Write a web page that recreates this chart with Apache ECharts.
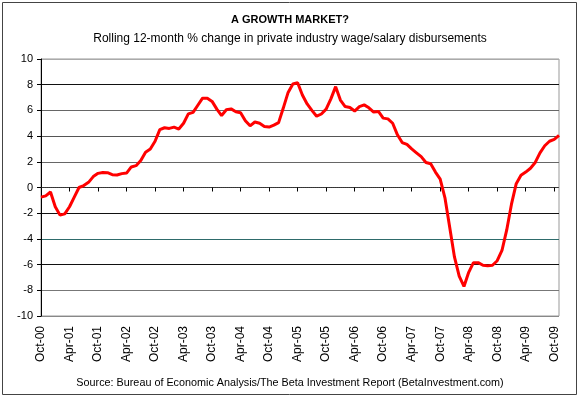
<!DOCTYPE html>
<html>
<head>
<meta charset="utf-8">
<script src="https://cdn.jsdelivr.net/npm/echarts@6/dist/echarts.min.js"></script>
<style>
  html, body { margin: 0; padding: 0; background: #fff; }
  #chart { width: 580px; height: 398px; }
</style>
</head>
<body>
<div id="chart"></div>
<script>
// month labels, Oct-00 .. Nov-09
const monthNames = ['Jan', 'Feb', 'Mar', 'Apr', 'May', 'Jun', 'Jul', 'Aug', 'Sep', 'Oct', 'Nov', 'Dec']
const startYear = 2000
const startMonth = 9 // Oct
const monthCount = 110

// rolling 12-month % change
const wageGrowth = [
  -0.75, -0.65, -0.35, -1.5, -2.15, -2.05, -1.5, -0.75, 0.0, 0.15,
  0.4, 0.85, 1.1, 1.17, 1.15, 1.0, 0.97, 1.08, 1.12, 1.6,
  1.7, 2.1, 2.75, 3.0, 3.6, 4.5, 4.65, 4.6, 4.7, 4.55,
  5.0, 5.73, 5.85, 6.4, 6.95, 6.95, 6.7, 6.1, 5.6, 6.05,
  6.12, 5.9, 5.82, 5.2, 4.8, 5.1, 5.0, 4.75, 4.7, 4.85,
  5.05, 6.2, 7.4, 8.05, 8.15, 7.2, 6.5, 6.0, 5.55, 5.72,
  6.1, 6.9, 7.85, 6.8, 6.3, 6.22, 5.95, 6.3, 6.43, 6.2,
  5.87, 5.92, 5.4, 5.34, 5.0, 4.1, 3.5, 3.35, 3.0, 2.7,
  2.4, 1.95, 1.85, 1.2, 0.65, -0.8, -3.1, -5.4, -6.9, -7.7,
  -6.6, -5.85, -5.85, -6.05, -6.1, -6.05, -5.7, -4.9, -3.3, -1.3,
  0.3, 0.95, 1.2, 1.5, 1.95, 2.7, 3.25, 3.6, 3.75, 4.05
]

// gridline colours from -10 up to 10 (the original's lines come out in different greys)
const gridColors = ['#888', '#777', '#111', '#2e6b6b', '#111', '#555', '#666', '#555', '#666', '#111', '#aaa']

const categories = []
for (let i = 0; i < monthCount; i++) {
  const m = (startMonth + i) % 12
  const y = startYear + Math.floor((startMonth + i) / 12)
  categories.push(monthNames[m] + '-' + String(y % 100).padStart(2, '0'))
}

const font = 'Liberation Sans, Arial, sans-serif'
const chart = echarts.init(document.getElementById('chart'))

const option = {
  animation: false,
  backgroundColor: '#fff',
  title: [{
    text: 'A GROWTH MARKET?',
    left: 'center',
    top: 9,
    textStyle: { fontFamily: font, fontSize: 11, fontWeight: 'bold', color: '#000' }
  }, {
    text: 'Rolling 12-month % change in private industry wage/salary disbursements',
    left: 'center',
    top: 28,
    textStyle: { fontFamily: font, fontSize: 12, fontWeight: 'normal', color: '#000' }
  }, {
    text: 'Source: Bureau of Economic Analysis/The Beta Investment Report (BetaInvestment.com)',
    left: 'center',
    top: 373,
    textStyle: { fontFamily: font, fontSize: 10.8, fontWeight: 'normal', color: '#000' }
  }],
  graphic: [{
    type: 'rect',
    shape: { x: 2.5, y: 2.5, width: 574, height: 392 },
    style: { fill: 'none', stroke: '#444', lineWidth: 1 },
    silent: true
  }],
  grid: {
    left: 41,
    right: 21,
    top: 59,
    bottom: 82,
    show: true,
    borderColor: '#999',
    borderWidth: 1
  },
  xAxis: [{
    // axis line with ticks, sitting on zero
    type: 'category',
    data: categories,
    boundaryGap: false,
    axisLine: { onZero: true, lineStyle: { color: '#333', width: 1, type: 'dotted' } },
    axisTick: { show: true, interval: 5, length: 4, lineStyle: { color: '#000' } },
    axisLabel: { show: false },
    splitLine: { show: false }
  }, {
    // labels at the bottom
    type: 'category',
    data: categories,
    boundaryGap: false,
    position: 'bottom',
    axisLine: { show: false, onZero: false },
    axisTick: { show: false },
    axisLabel: {
      interval: 5,
      rotate: 90,
      margin: 10,
      fontFamily: font,
      fontSize: 12,
      color: '#000'
    },
    splitLine: { show: false }
  }],
  yAxis: {
    type: 'value',
    min: -10,
    max: 10,
    interval: 2,
    axisLine: { show: true, lineStyle: { color: '#000', width: 1 } },
    axisTick: { show: true, length: 4, lineStyle: { color: '#000' } },
    axisLabel: { fontFamily: font, fontSize: 11, color: '#000', margin: 8 },
    splitLine: { show: true, lineStyle: { color: gridColors, width: 1 } }
  },
  series: [{
    type: 'line',
    xAxisIndex: 0,
    data: wageGrowth,
    showSymbol: false,
    lineStyle: { color: '#ff0000', width: 3 },
    itemStyle: { color: '#ff0000' }
  }]
}

chart.setOption(option)
</script>
</body>
</html>
